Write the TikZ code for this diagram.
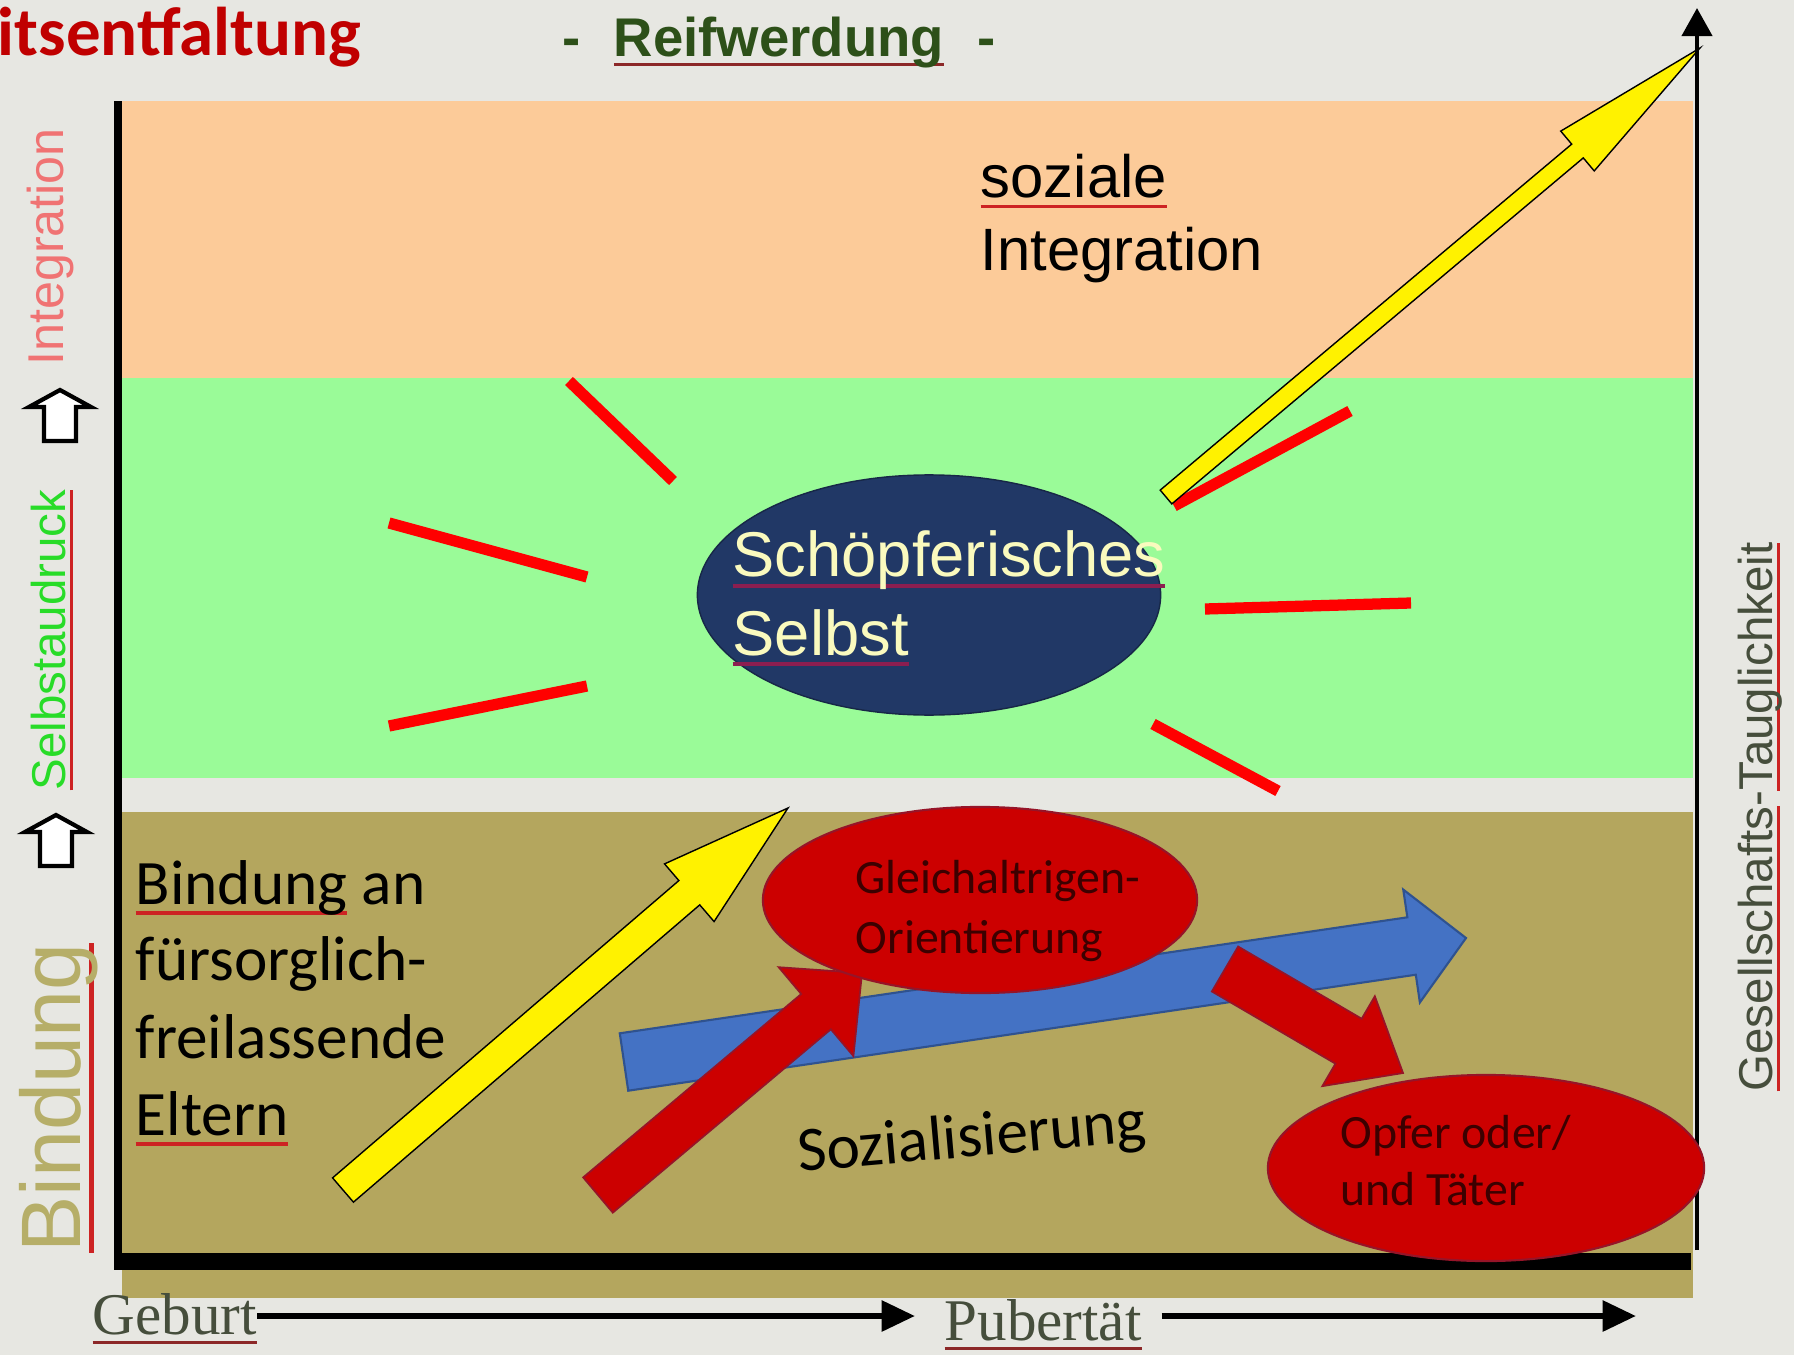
\documentclass[tikz,border=0pt]{standalone}
\usepackage{fontspec}
\setmainfont{Liberation Sans}
\newfontfamily\calibri{Carlito}
\newfontfamily\timesf{Liberation Serif}
\usetikzlibrary{calc,positioning,shapes.geometric,arrows.meta}

\definecolor{bgcol}{RGB}{231,231,226}
\definecolor{peach}{RGB}{252,203,153}
\definecolor{lgreen}{RGB}{154,251,152}
\definecolor{olive}{RGB}{180,166,94}
\definecolor{navy}{RGB}{33,56,102}
\definecolor{cream}{RGB}{250,250,190}
\definecolor{ellred}{RGB}{204,0,0}
\definecolor{ellrim}{RGB}{150,20,40}
\definecolor{arrblue}{RGB}{68,114,196}
\definecolor{bluerim}{RGB}{47,82,143}
\definecolor{ulred}{RGB}{205,35,35}
\definecolor{ulpurple}{RGB}{140,30,80}
\definecolor{ulbrown}{RGB}{140,40,40}
\definecolor{titlered}{RGB}{192,0,0}
\definecolor{darkgreen}{RGB}{45,80,25}
\definecolor{axisgray}{RGB}{70,78,60}
\definecolor{textred}{RGB}{60,0,0}
\definecolor{intred}{RGB}{240,115,115}
\definecolor{selbgreen}{RGB}{40,220,40}
\definecolor{bindkhaki}{RGB}{182,174,104}

\newcommand\fsz[1]{\fontsize{#1}{#1}\selectfont}
\newcommand\redline[2][ulred]{\setbox0\hbox{#2}\rlap{\color{#1}\rule[-0.17em]{\wd0}{0.06em}}\box0\relax}
% #1 style, #2 tail, #3 tip, #4 half shaft, #5 half head, #6 head length
\newcommand\blockarrow[6]{%
	\coordinate (#2h) at ($(#3)!#6!(#2)$);
	\path[#1] ($(#2)!#4!90:(#3)$) -- ($(#2h)!#4!90:(#3)$) -- ($(#2h)!#5!90:(#3)$) -- (#3)
		-- ($(#2h)!#5!-90:(#3)$) -- ($(#2h)!#4!-90:(#3)$) -- ($(#2)!#4!-90:(#3)$) -- cycle;
}

\begin{document}
\begin{tikzpicture}[x=0.01cm, y=-0.01cm]
		\tikzstyle{ray} = [draw=red, line width=3.2pt]
		\tikzstyle{yarrow} = [fill=yellow, draw=black, line width=0.4pt]
		\tikzstyle{rarrow} = [fill=ellred, draw=ellrim, line width=0.5pt]
		\tikzstyle{barrow} = [fill=arrblue, draw=bluerim, line width=0.6pt]
		\tikzstyle{redell} = [ellipse, fill=ellred, draw=ellrim, line width=0.6pt]
		\tikzstyle{txt} = [inner sep=0pt, anchor=base west]
		\tikzstyle{sidelabel} = [inner sep=0pt, anchor=base, rotate=90]
		\tikzstyle{hollow} = [fill=white, draw=black, line width=1.2pt]
		\tikzstyle{timeline} = [line width=1.8pt, -{Triangle[length=9.5pt, width=8.5pt]}]
		\useasboundingbox (0,0) rectangle (1794,1355);
		\fill[bgcol] (0,0) rectangle (1794,1355);
		% bands
		\fill[peach] (122,101) rectangle (1693,378);
		\fill[lgreen] (122,378) rectangle (1693,778);
		\fill[olive] (122,812) rectangle (1693,1298);
		\fill[black] (114,101) rectangle (122,1270);
		\fill[black] (118,1253) rectangle (1691,1270);
		% rays
		\foreach \xa/\ya/\xb/\yb in {569/381/673/481, 389/523/587/577, 389/726/587/686,
			1153/724/1278/791, 1205/609/1411/603, 1174/506/1350/411}
			\draw[ray] (\xa,\ya) -- (\xb,\yb);
		\node[ellipse, fill=navy, draw=navy!70!black, minimum width=4.63cm, minimum height=2.40cm] (selbst) at (929,595) {};
		\node[txt, text=cream, font=\fsz{18}] (schoepf) at (732,577) {\redline[ulpurple]{Schöpferisches}};
		\node[txt, text=cream, font=\fsz{18}] (selbsttxt) at (732,655) {\redline[ulpurple]{Selbst}};
		% yellow arrows
		\coordinate (bigtail) at (1166,497);
		\coordinate (bigtip) at (1700,48);
		\blockarrow{yarrow}{bigtail}{bigtip}{0.09cm}{0.26cm}{1.6cm}
		\coordinate (vbot) at (1697,1250);
		\coordinate (vtop) at (1697,8);
		\draw[line width=1.4pt, -{Triangle[length=8pt, width=8.5pt]}] (vbot) -- (vtop);
		\node[txt, font=\fsz{17}] (soz) at (980,198) {\redline{soziale}};
		\node[txt, font=\fsz{17}] (integ) at (980,271) {Integration};
		\coordinate (ytail) at (343,1190);
		\coordinate (ytip) at (788,808);
		\blockarrow{yarrow}{ytail}{ytip}{0.16cm}{0.38cm}{1.3cm}
		% socialisation arrows
		\coordinate (btail) at (624,1062);
		\coordinate (btip) at (1466,938);
		\blockarrow{barrow}{btail}{btip}{0.29cm}{0.57cm}{0.55cm}
		\coordinate (rtail) at (598,1195);
		\coordinate (rtip) at (862,973);
		\blockarrow{rarrow}{rtail}{rtip}{0.23cm}{0.58cm}{0.6cm}
		\coordinate (stail) at (1225,969);
		\coordinate (stip) at (1403,1073);
		\blockarrow{rarrow}{stail}{stip}{0.26cm}{0.52cm}{0.63cm}
		\node[redell, minimum width=4.34cm, minimum height=1.86cm] (peer) at (980,900) {};
		\node[redell, minimum width=4.36cm, minimum height=1.86cm] (opfer) at (1486,1168) {};
		\node[txt, text=textred, font=\calibri\fsz{13.6}] (peer1) at (855,893) {Gleichaltrigen-};
		\node[txt, text=textred, font=\calibri\fsz{13.6}] (peer2) at (855,953) {Orientierung};
		\node[txt, text=textred, font=\calibri\fsz{13.6}] (opfer1) at (1340,1148) {Opfer oder/};
		\node[txt, text=textred, font=\calibri\fsz{13.6}] (opfer2) at (1340,1205) {und Täter};
		\node[inner sep=0pt, rotate=5, font=\calibri\fsz{18}] (sozial) at (972,1140) {Sozialisierung};
		\foreach \yb/\bindline [count=\k] in {904/{\redline{Bindung} an}, 980/fürsorglich-, 1058/freilassende, 1135/{\redline{Eltern}}}
			\node[txt, font=\calibri\fsz{18}] (bind\k) at (135,\yb) {\bindline};
		% side labels
		\node[sidelabel, text=intred, font=\fsz{14.3}] (lint) at (64,247) {Integration};
		\node[sidelabel, text=selbgreen, font=\fsz{13.5}] (lselbst) at (65,640) {\redline{Selbstaudruck}};
		\node[sidelabel, text=bindkhaki, font=\fsz{24}] (lbind) at (80,1098) {\redline{Bindung}};
		\foreach \cx/\cy in {60/390, 56/815}
			\path[hollow] (\cx,\cy) -- ++(31,17) -- ++(-15,0) -- ++(0,34) -- ++(-32,0) -- ++(0,-34) -- ++(-15,0) -- cycle;
		\node[sidelabel, text=axisgray, font=\fsz{13.5}] (taugl) at (1772,817) {\redline{Gesellschafts}-\redline{Tauglichkeit}};
		% top and bottom
		\node[txt, text=titlered, font=\calibri\bfseries\fsz{19.6}] (title) at (-3,56) {itsentfaltung};
		\node[inner sep=0pt, anchor=base, text=darkgreen, font=\bfseries\fsz{15.5}] (reif) at (779,57) {\redline[ulbrown]{Reifwerdung}};
		\node[inner sep=0pt, base left=9pt of reif, text=darkgreen, font=\bfseries\fsz{15.5}] (dashl) {-};
		\node[inner sep=0pt, base right=9pt of reif, text=darkgreen, font=\bfseries\fsz{15.5}] (dashr) {-};
		\node[txt, text=axisgray, font=\timesf\fsz{16.8}] (geburt) at (92,1334) {\redline[ulbrown]{Geburt}};
		\node[txt, text=axisgray, font=\timesf\fsz{16.8}] (pubert) at (944,1340) {\redline[ulbrown]{Pubertät}};
		\coordinate (tend) at (915,1316);
		\coordinate (pend) at (1636,1316);
		\draw[timeline] (geburt.east |- tend) -- (tend);
		\draw[timeline, shorten <=5.5pt] (pubert.east |- pend) -- (pend);
\end{tikzpicture}
\end{document}
